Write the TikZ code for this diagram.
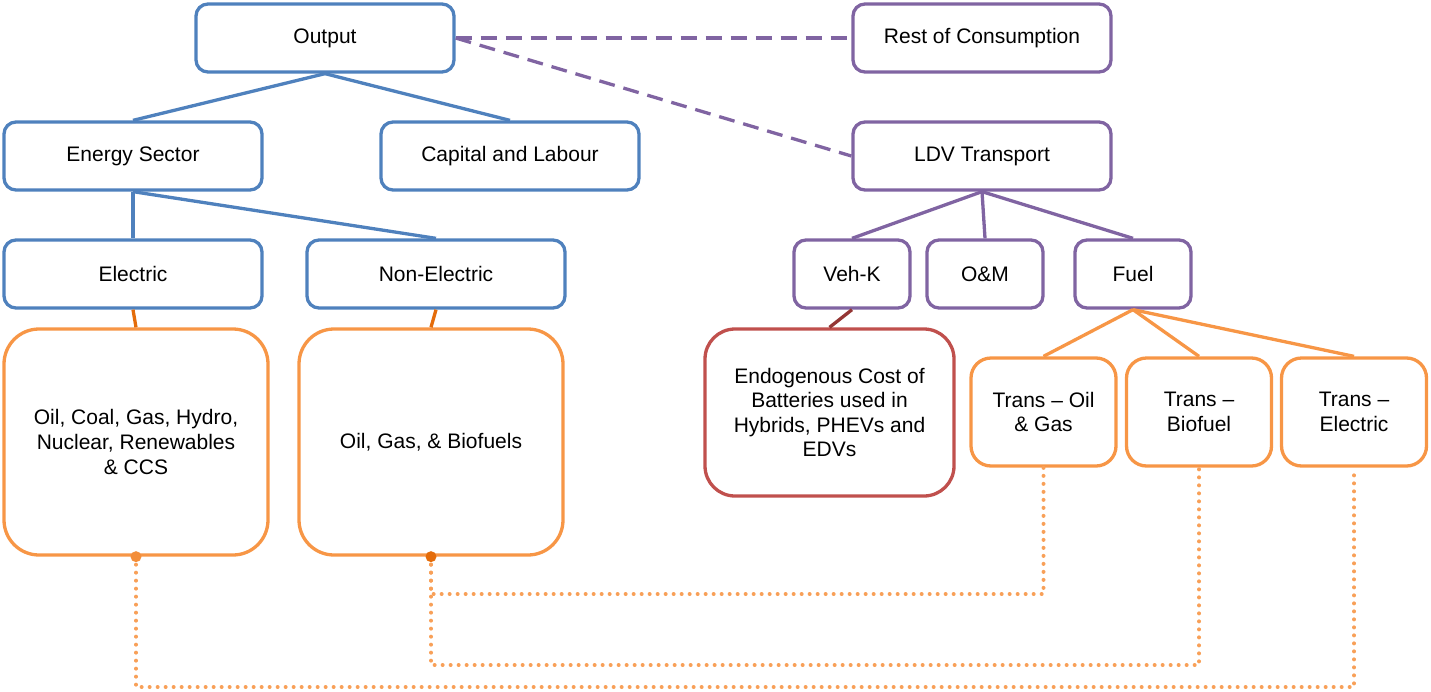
\documentclass[tikz,border=0pt]{standalone}
\usepackage{fontspec}
\setmainfont{Liberation Sans}
\usetikzlibrary{positioning}
\definecolor{nodeblue}{HTML}{4F81BD}
\definecolor{nodepurple}{HTML}{8064A2}
\definecolor{nodeorange}{HTML}{F79646}
\definecolor{linkorange}{HTML}{E46C0A}
\definecolor{nodered}{HTML}{C0504D}
\definecolor{linkred}{HTML}{943634}
\tikzset{>=stealth}
\tikzset{
  box/.style={draw, line width=3.3pt, rounded corners=12pt, fill=white, align=center,
    inner sep=0pt, font=\fontsize{21}{24.6}\selectfont},
  toprow/.style={box, minimum width=258pt, minimum height=68pt},
  smallbox/.style={box, draw=nodepurple, minimum width=116pt, minimum height=68pt},
  bigbox/.style={box, draw=nodeorange, rounded corners=35pt, minimum width=264pt, minimum height=226pt},
  transbox/.style={box, draw=nodeorange, rounded corners=20pt, minimum width=145pt, minimum height=108pt},
  treeline/.style={line width=3.3pt},
  dashline/.style={line width=3.3pt, nodepurple, dash pattern=on 16pt off 9pt},
  dotline/.style={line width=4pt, nodeorange!90, line cap=round, dash pattern=on 0pt off 8pt}
}
\begin{document}
\begin{tikzpicture}[x=1pt,y=-1pt]
  \useasboundingbox (0,0) rectangle (1431,691);
  \node[toprow, draw=nodeblue] (output) at (325,38) {Output};
  \node[toprow, draw=nodepurple] (rest) at (982,38) {Rest of Consumption};
  \node[toprow, draw=nodeblue] (energy) at (133,156) {Energy Sector};
  \node[toprow, draw=nodeblue] (capital) at (510,156) {Capital and Labour};
  \node[toprow, draw=nodepurple] (ldv) at (982,156) {LDV Transport};
  \node[toprow, draw=nodeblue] (electric) at (133,274) {Electric};
  \node[toprow, draw=nodeblue] (nonelec) at (436,274) {Non-Electric};
  \node[smallbox] (vehk) at (852,274) {Veh-K};
  \node[smallbox] (om) at (985,274) {O\&M};
  \node[smallbox] (fuel) at (1133,274) {Fuel};
  \node[bigbox] (elecmix) at (136,442) {Oil, Coal, Gas, Hydro,\\Nuclear, Renewables\\\& CCS};
  \node[bigbox] (nonelecmix) at (431,442) {Oil, Gas, \& Biofuels};
  \node[box, draw=nodered, rounded corners=30pt, minimum width=249pt, minimum height=167pt] (batt) at (829.5,412.5)
    {Endogenous Cost of\\Batteries used in\\Hybrids, PHEVs and\\EDVs};
  \node[transbox] (transoil) at (1043.5,412) {Trans -- Oil\\\& Gas};
  \node[transbox] (transbio) at (1199,412) {Trans --\\Biofuel};
  \node[transbox] (transelec) at (1354,412) {Trans --\\Electric};
  \coordinate (lanea) at (0,594);
  \coordinate (laneb) at (0,665);
  \coordinate (lanec) at (0,687);

  \draw[treeline, nodeblue] (output.south) -- (energy.north);
  \draw[treeline, nodeblue] (output.south) -- (capital.north);
  \draw[treeline, nodeblue] (energy.south) -- (electric.north);
  \draw[treeline, nodeblue] (energy.south) -- (nonelec.north);
  \draw[dashline] (output.east) -- (rest.west);
  \draw[dashline] (output.east) -- (ldv.west);
  \draw[treeline, nodepurple] (ldv.south) -- (vehk.north);
  \draw[treeline, nodepurple] (ldv.south) -- (om.north);
  \draw[treeline, nodepurple] (ldv.south) -- (fuel.north);
  \draw[treeline, linkorange] (electric.south) -- (elecmix.north);
  \draw[treeline, linkorange] (nonelec.south) -- (nonelecmix.north);
  \draw[treeline, linkred] (vehk.south) -- (batt.north);
  \draw[treeline, nodeorange] (fuel.south) -- (transoil.north);
  \draw[treeline, nodeorange] (fuel.south) -- (transbio.north);
  \draw[treeline, nodeorange] (fuel.south) -- (transelec.north);

  \draw[dotline] (elecmix.south) -- (elecmix.south |- lanec) -| (transelec.south);
  \draw[dotline] (nonelecmix.south) -- (nonelecmix.south |- lanea) -| (transoil.south);
  \draw[dotline] (nonelecmix.south) -- (nonelecmix.south |- laneb) -| (transbio.south);
  \fill[nodeorange!80!linkorange] (elecmix.south) circle (5.5pt);
  \fill[linkorange] (nonelecmix.south) circle (5.5pt);
\end{tikzpicture}
\end{document}
